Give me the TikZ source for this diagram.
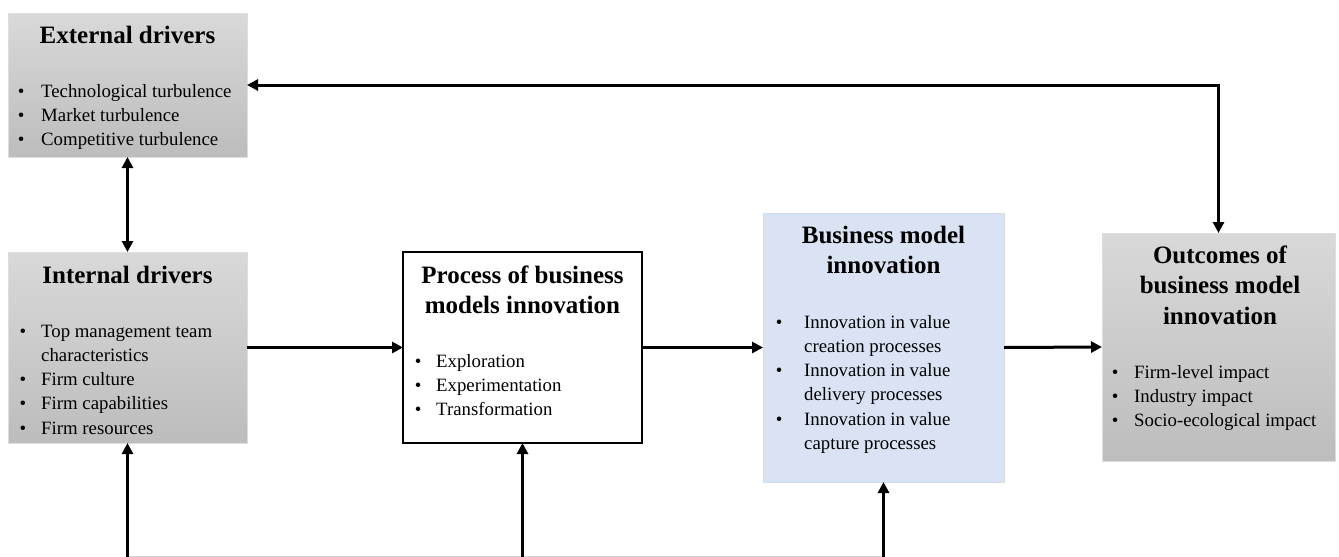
\documentclass[tikz,border=0pt]{standalone}
\usepackage{fontspec}
\setmainfont{Liberation Serif}
\usetikzlibrary{arrows.meta}
\newlength{\bw}
\newcommand{\ttlbox}[1]{\parbox[t]{250pt}{\centering\fontsize{25}{30.5}\selectfont\bfseries #1}}
\newcommand{\lstbox}[2]{\parbox[t]{240pt}{\setlength{\bw}{#1}\raggedright\fontsize{18.8}{24.3}\selectfont #2}}
\newcommand{\bi}[1]{\par\noindent\makebox[\bw][l]{\textbullet}#1}
\newcommand{\ci}[1]{\par\noindent\hspace*{\bw}#1}
\begin{document}
\begin{tikzpicture}[x=1pt,y=-1pt,
  box/.style={rectangle,inner sep=0pt,outer sep=0pt,anchor=north west},
  graybox/.style={box,top color=black!15,bottom color=black!26,draw=black!13,line width=0.6pt},
  whitebox/.style={box,fill=white,draw=black,line width=1.6pt},
  bluebox/.style={box,fill={rgb,255:red,218;green,227;blue,243},draw={rgb,255:red,212;green,221;blue,238},line width=0.6pt},
  ttl/.style={inner sep=0pt,anchor=base},
  lst/.style={inner sep=0pt,anchor=base west},
  arr/.style={line width=3pt,-{Triangle[length=11pt,width=11pt]}},
  darr/.style={line width=3pt,{Triangle[length=11pt,width=11pt]}-{Triangle[length=11pt,width=11pt]}},
  faint/.style={line width=1.2pt,draw=black!18}]
\useasboundingbox (0,0) rectangle (1339,557);
% boxes
\node[graybox,minimum width=239pt,minimum height=144pt] (ext) at (8,13) {};
\node[graybox,minimum width=239pt,minimum height=191pt] (int) at (8,252) {};
\node[whitebox,minimum width=239pt,minimum height=191pt] (proc) at (403,252) {};
\node[bluebox,minimum width=241pt,minimum height=269pt] (bmi) at (763,213) {};
\node[graybox,minimum width=233pt,minimum height=228pt] (out) at (1102,233) {};
% titles
\node[ttl] (extT) at (127.5,43) {\ttlbox{External drivers}};
\node[ttl] (intT) at (127.5,283) {\ttlbox{Internal drivers}};
\node[ttl] (procT) at (522.5,283) {\ttlbox{Process of business\\models innovation}};
\node[ttl] (bmiT) at (883.5,243) {\ttlbox{Business model\\innovation}};
\node[ttl] (outT) at (1220,263) {\ttlbox{Outcomes of\\business model\\innovation}};
% lists
\node[lst] (extL) at (17.7,97) {\lstbox{23.3pt}{\bi{Technological turbulence}\bi{Market turbulence}\bi{Competitive turbulence}}};
\node[lst] (intL) at (19.5,337) {\lstbox{21.5pt}{\bi{Top management team}\ci{characteristics}\bi{Firm culture}\bi{Firm capabilities}\bi{Firm resources}}};
\node[lst] (procL) at (414.7,367) {\lstbox{21.3pt}{\bi{Exploration}\bi{Experimentation}\bi{Transformation}}};
\node[lst] (bmiL) at (775.7,328) {\lstbox{28.3pt}{\bi{Innovation in value}\ci{creation processes}\bi{Innovation in value}\ci{delivery processes}\bi{Innovation in value}\ci{capture processes}}};
\node[lst] (outL) at (1111.7,378) {\lstbox{22.3pt}{\bi{Firm-level impact}\bi{Industry impact}\bi{Socio-ecological impact}}};
% bottom free ends
\coordinate (b1) at (127.5,557);
\coordinate (b2) at (522.5,557);
\coordinate (b3) at (883.5,557);
% connectors
\draw[darr] (ext.east) -| (out.north);
\draw[darr] (ext.south) -- (int.north);
\draw[arr] (int.east) -- (proc.west);
\draw[arr] (proc.east) -- (bmi.west);
\draw[arr] (bmi.east) -- (out.west);
\draw[faint] (b1) -- (b3);
\draw[arr] (b1) -- (int.south);
\draw[arr] (b2) -- (proc.south);
\draw[arr] (b3) -- (bmi.south);
\end{tikzpicture}
\end{document}
